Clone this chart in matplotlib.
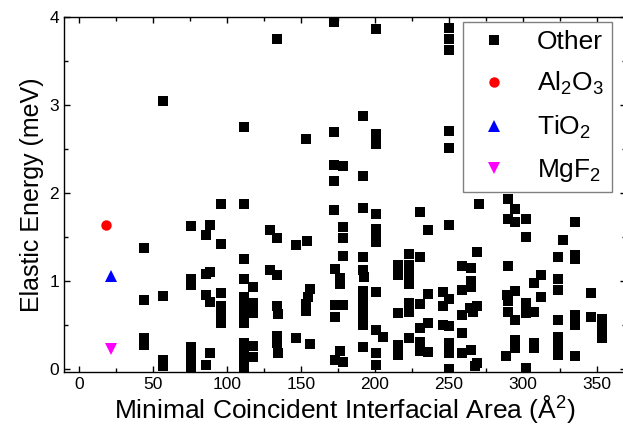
import matplotlib
matplotlib.use('Agg')
import matplotlib.pyplot as plt
from matplotlib.ticker import MultipleLocator

plt.rcParams['font.family'] = ['Liberation Sans', 'DejaVu Sans']
plt.rcParams['mathtext.fontset'] = 'custom'
plt.rcParams['mathtext.rm'] = 'Liberation Sans'
plt.rcParams['mathtext.it'] = 'Liberation Sans:italic'
plt.rcParams['mathtext.bf'] = 'Liberation Sans:bold'

# "Other" interfaces: area (A^2) and elastic energy (meV), read column by column
other_area = [44, 44, 44, 44,
              57, 57, 57, 57,
              76, 76, 76, 76, 76, 76, 76,
              86, 86, 86, 86,
              88.5, 88.5, 88.5, 88.5,
              96, 96, 96, 96, 96, 96,
              111.5, 111.5, 111.5, 111.5, 111.5, 111.5, 111.5, 111.5, 111.5, 111.5, 111.5, 111.5,
              117.7, 117.7, 117.7, 117.7, 117.7,
              129.5, 129.5,
              134, 133.6, 133.6, 133.6, 133.6, 133.6,
              134.7, 134.7,
              147, 147,
              153.4, 153.4, 153.4,
              154.5, 155, 156, 156,
              172.5, 172.5, 172.5, 172.5, 172.5, 173, 173, 173, 173,
              176.4, 176.4, 176.4,
              178.6, 178.6, 178.6, 178.6, 178.6, 178.6,
              192, 192, 192, 192, 192, 192, 192, 192, 192, 192, 192,
              193,
              200.7, 200.7, 200.7, 200.7, 200.7, 200.7, 200.7, 200.7, 200.7, 200.7, 200.7,
              205.6,
              215.8, 215.8, 215.8, 215.8, 215.8,
              223, 223, 223, 223, 223, 223, 223,
              230.4, 230.4, 230.4, 230.4, 230.4, 230.4,
              235.6, 235.6, 235.6, 235.6,
              246, 246, 246,
              250, 250, 250, 250, 250, 250, 250, 250, 250, 250, 250,
              258.6, 258.6, 258.6, 258.6, 258.6,
              265.3, 265.3, 265.3, 265.3,
              264, 266.4,
              268.7, 268.7, 268.7,
              267.6, 270.5,
              288.5, 289,
              290, 290, 290, 290, 290,
              294.6, 294.6, 294.6, 294.6, 294.6, 294.6,
              302, 302, 302, 302, 302,
              307.4, 307.4, 307.4, 307.4,
              312.6, 312.6,
              324, 324, 324, 324, 324, 324, 324,
              326.8,
              335, 335, 335, 335, 335, 335,
              346, 346,
              353.6, 353.6, 353.6]
other_energy = [1.37, 0.78, 0.35, 0.27,
                3.05, 0.83, 0.10, 0.03,
                1.62, 1.02, 0.95, 0.25, 0.13, 0.05, 0.0,
                1.52, 1.08, 0.84, 0.05,
                1.64, 1.10, 0.76, 0.18,
                1.88, 1.42, 0.86, 0.71, 0.61, 0.52,
                2.75, 1.88, 1.25, 1.02, 0.82, 0.74, 0.64, 0.52, 0.29, 0.20, 0.10, 0.01,
                0.93, 0.75, 0.64, 0.26, 0.14,
                1.58, 1.12,
                3.75, 1.49, 1.07, 0.71, 0.37, 0.29,
                0.62, 0.18,
                1.41, 0.35,
                2.61, 0.74, 0.66,
                1.45, 0.82, 0.91, 0.28,
                3.94, 2.69, 2.32, 2.14, 1.81, 1.14, 0.73, 0.59, 0.10,
                1.03, 0.97, 0.20,
                2.31, 1.61, 1.49, 1.28, 0.73, 0.08,
                2.87, 2.19, 1.83, 1.27, 1.13, 0.88, 0.78, 0.69, 0.59, 0.50, 0.25,
                1.05,
                3.86, 2.67, 2.56, 1.76, 1.59, 1.52, 1.44, 0.87, 0.44, 0.18, 0.05,
                0.36,
                1.18, 1.07, 0.64, 0.27, 0.16,
                1.31, 1.18, 1.07, 0.96, 0.75, 0.65, 0.35,
                1.78, 1.27, 0.74, 0.46, 0.31, 0.20,
                1.58, 0.85, 0.52, 0.19,
                0.87, 0.71, 0.50,
                3.87, 3.75, 3.63, 2.70, 2.51, 1.64, 0.80, 0.49, 0.30, 0.18, 0.0,
                1.17, 0.90, 0.61, 0.41, 0.18,
                1.15, 1.00, 0.93, 0.22,
                0.69, 0.65,
                1.33, 0.71, 0.07,
                0.03, 1.87,
                0.15, 0.84,
                1.93, 1.70, 1.17, 0.77, 0.65,
                1.82, 1.67, 0.88, 0.56, 0.33, 0.24,
                1.70, 1.50, 0.75, 0.63, 0.01,
                0.98, 0.65, 0.29, 0.24,
                1.07, 0.82,
                1.27, 1.02, 0.90, 0.56, 0.36, 0.25, 0.16,
                1.46,
                1.67, 1.30, 1.25, 0.61, 0.50, 0.15,
                0.86, 0.59,
                0.57, 0.46, 0.35]

al2o3_area, al2o3_energy = [18.7], [1.64]
tio2_area, tio2_energy = [22], [1.06]
mgf2_area, mgf2_energy = [22], [0.23]

fig = plt.figure(figsize=(6.23, 4.33), dpi=100)
# right spine sits just past the image edge in the original
ax = fig.add_axes([64/623, 61/433, 562/623, 355/433])

ax.plot(other_area, other_energy, 's', color='black', markersize=7, markeredgewidth=0, label='Other')
ax.plot(al2o3_area, al2o3_energy, 'o', color='red', markersize=7.5, markeredgewidth=0, label='Al$_2$O$_3$')
ax.plot(tio2_area, tio2_energy, '^', color='blue', markersize=8.5, markeredgewidth=0, label='TiO$_2$')
ax.plot(mgf2_area, mgf2_energy, 'v', color='magenta', markersize=8.5, markeredgewidth=0, label='MgF$_2$')

ax.set_xlim(-10, 369.7)
ax.set_ylim(-0.035, 4.0)
ax.xaxis.set_major_locator(MultipleLocator(50))
ax.xaxis.set_minor_locator(MultipleLocator(25))
ax.yaxis.set_major_locator(MultipleLocator(1))
ax.yaxis.set_minor_locator(MultipleLocator(0.5))
ax.tick_params(which='both', direction='in', top=True, right=True, width=1)
ax.tick_params(which='major', length=4.5, labelsize=12.5)
ax.tick_params(which='minor', length=3)
for s in ax.spines.values():
    s.set_linewidth(1.0)

ax.set_xlabel('Minimal Coincident Interfacial Area (Å$^2$)', fontsize=19, labelpad=1)
ax.set_ylabel('Elastic Energy (meV)', fontsize=18, labelpad=4)

leg = ax.legend(loc='upper right', bbox_to_anchor=(548/562, 350/355), borderaxespad=0,
                fontsize=19, fancybox=False, edgecolor='#808080', framealpha=1,
                handlelength=1.7, handletextpad=0.8, labelspacing=0.62, borderpad=0.3,
                numpoints=1)
leg.get_frame().set_linewidth(1.0)

fig.savefig('out.png', dpi=100)
